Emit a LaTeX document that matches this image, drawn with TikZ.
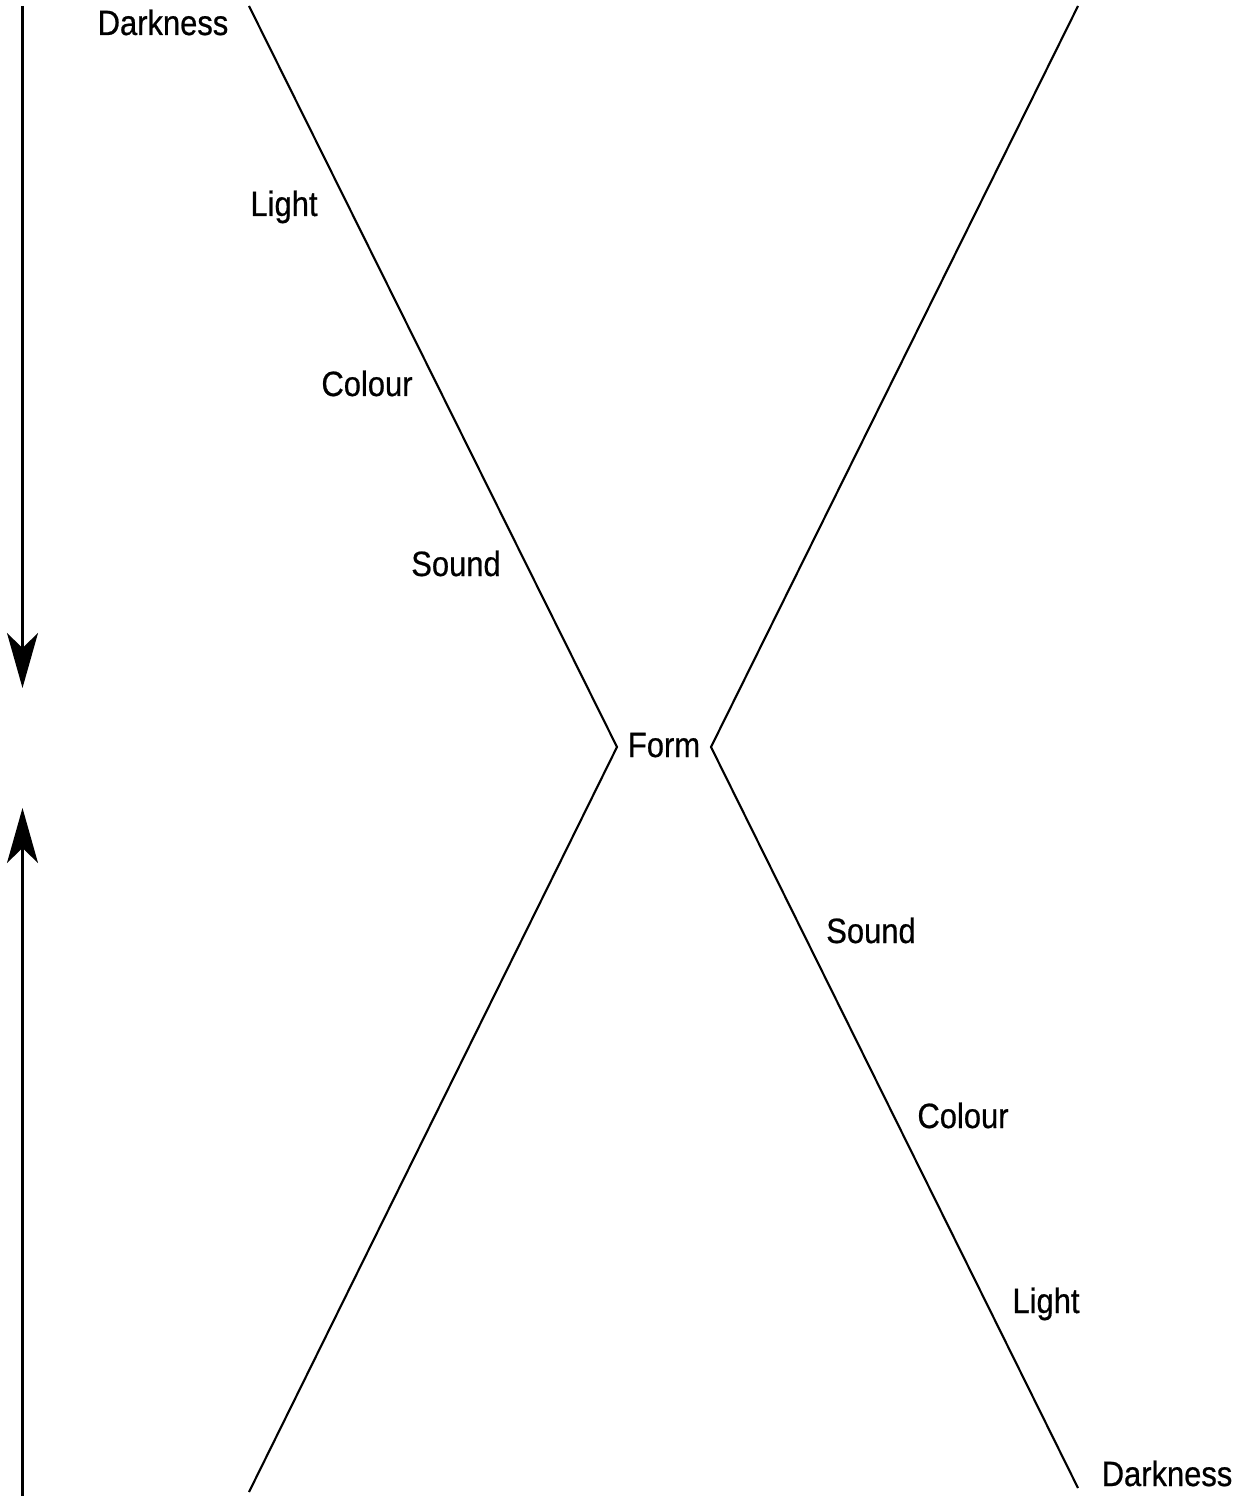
\documentclass[tikz,border=0pt]{standalone}
\usepackage{fontspec}
\setmainfont[FakeStretch=0.88,FakeBold=0.6]{Liberation Sans}
\usetikzlibrary{arrows.meta}
\begin{document}
\begin{tikzpicture}[x=0.02cm,y=-0.02cm,
  lbl/.style={anchor=base,inner sep=0pt,font=\fontsize{20}{23}\selectfont},
  edge/.style={line width=1.2pt,line join=miter},
  flow/.style={line width=1.2pt,-{Stealth[length=1.1cm,width=0.62cm,inset=0.3cm]}}]
\useasboundingbox (0,0) rectangle (1241,1496);
% vertices of the two chevrons
\coordinate (lt) at (249,6);
\coordinate (lv) at (617,747);
\coordinate (lb) at (249,1492);
\coordinate (rt) at (1078,6);
\coordinate (rv) at (711,747);
\coordinate (rb) at (1078,1488);
\draw[edge] (lt) -- (lv) -- (lb);
\draw[edge] (rt) -- (rv) -- (rb);
% arrows
\coordinate (a1s) at (22.5,6);
\coordinate (a1e) at (22.5,688);
\coordinate (a2s) at (22.5,1496);
\coordinate (a2e) at (22.5,808);
\draw[flow] (a1s) -- (a1e);
\draw[flow] (a2s) -- (a2e);
% labels
\node[lbl] (dk1) at (163,35) {Darkness};
\node[lbl] (li1) at (284,216) {Light};
\node[lbl] (co1) at (367,396) {Colour};
\node[lbl] (so1) at (456,576) {Sound};
\node[lbl] (fo) at (664,757) {Form};
\node[lbl] (so2) at (871,943) {Sound};
\node[lbl] (co2) at (963,1128) {Colour};
\node[lbl] (li2) at (1046,1313) {Light};
\node[lbl] (dk2) at (1167,1486) {Darkness};
\end{tikzpicture}
\end{document}
